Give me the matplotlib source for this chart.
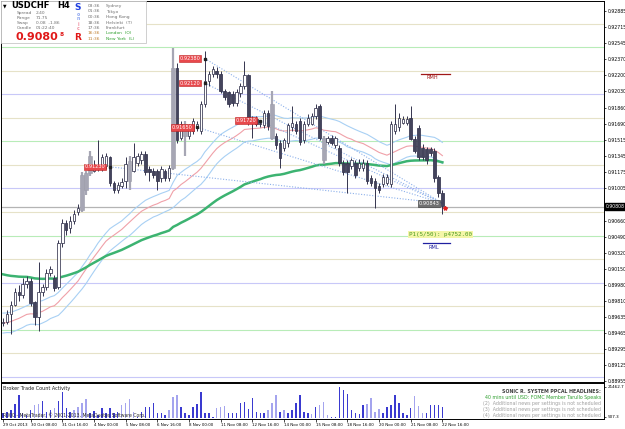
import matplotlib
matplotlib.use("Agg")
import matplotlib.pyplot as plt
from matplotlib.patches import Rectangle
import pandas as pd

# USDCHF H4 candles
opens = [0.8957, 0.8958, 0.8967, 0.8976, 0.8990, 0.8987, 0.8999, 0.9002, 0.8979, 0.8963,
         0.8990, 0.8995, 0.9010, 0.9005, 0.8995, 0.9042, 0.9063, 0.9058, 0.9066, 0.9075,
         0.9077, 0.9098, 0.9116, 0.9119, 0.9121, 0.9122, 0.9124, 0.9133, 0.9106, 0.9098,
         0.9103, 0.9108, 0.9108, 0.9119, 0.9127, 0.9130, 0.9137, 0.9121, 0.9119, 0.9119,
         0.9111, 0.9119, 0.9111, 0.9122, 0.9228, 0.9154, 0.9169, 0.9156, 0.9161, 0.9165,
         0.9161, 0.9190, 0.9214, 0.9222, 0.9225, 0.9222, 0.9204, 0.9202, 0.9200, 0.9191,
         0.9201, 0.9209, 0.9220, 0.9175, 0.9174, 0.9170, 0.9167, 0.9180, 0.9190, 0.9156,
         0.9148, 0.9143, 0.9148, 0.9165, 0.9169, 0.9172, 0.9151, 0.9169, 0.9169, 0.9177,
         0.9188, 0.9154, 0.9149, 0.9154, 0.9146, 0.9143, 0.9127, 0.9127, 0.9124, 0.9127,
         0.9122, 0.9122, 0.9127, 0.9111, 0.9108, 0.9103, 0.9105, 0.9106, 0.9105, 0.9161,
         0.9165, 0.9170, 0.9170, 0.9175, 0.9153, 0.9164, 0.9143, 0.9142, 0.9142, 0.9140,
         0.9112, 0.9095]
highs = [0.8962, 0.8971, 0.8981, 0.8994, 0.8997, 0.9005, 0.9007, 0.9005, 0.8981, 0.9022,
         0.8999, 0.9015, 0.9018, 0.9008, 0.9045, 0.9068, 0.9067, 0.9071, 0.9077, 0.9083,
         0.9117, 0.9119, 0.9140, 0.9130, 0.9151, 0.9137, 0.9138, 0.9135, 0.9108, 0.9107,
         0.9111, 0.9133, 0.9134, 0.9148, 0.9138, 0.9140, 0.9140, 0.9124, 0.9122, 0.9121,
         0.9124, 0.9121, 0.9125, 0.9249, 0.9233, 0.9172, 0.9172, 0.9168, 0.9175, 0.9172,
         0.9193, 0.9246, 0.9225, 0.9230, 0.9229, 0.9225, 0.9206, 0.9204, 0.9203, 0.9206,
         0.9212, 0.9235, 0.9222, 0.9177, 0.9177, 0.9173, 0.9183, 0.9183, 0.9204, 0.9159,
         0.9151, 0.9154, 0.9170, 0.9188, 0.9172, 0.9175, 0.9172, 0.9179, 0.9180, 0.9190,
         0.9190, 0.9156, 0.9156, 0.9157, 0.9156, 0.9146, 0.9130, 0.9130, 0.9132, 0.9130,
         0.9131, 0.9131, 0.9130, 0.9114, 0.9111, 0.9106, 0.9115, 0.9115, 0.9172, 0.9190,
         0.9180, 0.9177, 0.9177, 0.9188, 0.9156, 0.9167, 0.9147, 0.9144, 0.9144, 0.9143,
         0.9114, 0.9098]
lows = [0.8954, 0.8956, 0.8946, 0.8975, 0.8981, 0.8984, 0.8994, 0.8975, 0.8955, 0.8949,
        0.8986, 0.8992, 0.9007, 0.8991, 0.8993, 0.9038, 0.9051, 0.9053, 0.9062, 0.9072,
        0.9075, 0.9093, 0.9113, 0.9117, 0.9119, 0.9119, 0.9121, 0.9103, 0.9095, 0.9095,
        0.9101, 0.9101, 0.9098, 0.9117, 0.9124, 0.9126, 0.9114, 0.9108, 0.9111, 0.9098,
        0.9107, 0.9108, 0.9108, 0.9120, 0.9148, 0.9151, 0.9135, 0.9153, 0.9158, 0.9161,
        0.9158, 0.9187, 0.9209, 0.9218, 0.9217, 0.9201, 0.9194, 0.9187, 0.9188, 0.9188,
        0.9197, 0.9206, 0.9167, 0.9154, 0.9166, 0.9165, 0.9164, 0.9162, 0.9151, 0.9142,
        0.9122, 0.9140, 0.9144, 0.9161, 0.9158, 0.9146, 0.9148, 0.9166, 0.9167, 0.9174,
        0.9151, 0.9126, 0.9147, 0.9146, 0.9143, 0.9124, 0.9114, 0.9095, 0.9121, 0.9111,
        0.9119, 0.9119, 0.9105, 0.9103, 0.9079, 0.9095, 0.9102, 0.9104, 0.9102, 0.9158,
        0.9161, 0.9168, 0.9167, 0.9151, 0.9138, 0.9130, 0.9130, 0.9126, 0.9135, 0.9107,
        0.9091, 0.9073]
closes = [0.8958, 0.8967, 0.8976, 0.8990, 0.8987, 0.8999, 0.9002, 0.8978, 0.8963, 0.8990,
          0.8995, 0.9010, 0.9015, 0.8994, 0.9042, 0.9063, 0.9056, 0.9066, 0.9073, 0.9079,
          0.9114, 0.9116, 0.9135, 0.9124, 0.9124, 0.9133, 0.9134, 0.9106, 0.9098, 0.9104,
          0.9107, 0.9126, 0.9129, 0.9133, 0.9135, 0.9137, 0.9117, 0.9117, 0.9114, 0.9108,
          0.9121, 0.9111, 0.9122, 0.9228, 0.9151, 0.9169, 0.9156, 0.9165, 0.9172, 0.9169,
          0.9190, 0.9214, 0.9222, 0.9227, 0.9222, 0.9204, 0.9197, 0.9190, 0.9191, 0.9202,
          0.9209, 0.9220, 0.9170, 0.9171, 0.9169, 0.9169, 0.9180, 0.9166, 0.9154, 0.9146,
          0.9132, 0.9151, 0.9167, 0.9170, 0.9161, 0.9149, 0.9169, 0.9175, 0.9177, 0.9186,
          0.9154, 0.9130, 0.9154, 0.9148, 0.9154, 0.9127, 0.9117, 0.9117, 0.9130, 0.9114,
          0.9127, 0.9127, 0.9108, 0.9106, 0.9101, 0.9098, 0.9112, 0.9112, 0.9169, 0.9169,
          0.9175, 0.9174, 0.9174, 0.9153, 0.9140, 0.9133, 0.9133, 0.9130, 0.9138, 0.9111,
          0.9095, 0.9081]
gray_bars = [20, 21, 22, 32, 43, 46, 68, 81]

tick_idx = [0, 7, 15, 23, 31, 39, 47, 55, 63, 71, 79, 87, 95, 103, 111]
tick_text = ["29 Oct 2013", "30 Oct 08:00", "31 Oct 16:00", "4 Nov 00:00", "5 Nov 08:00",
             "6 Nov 16:00", "8 Nov 00:00", "11 Nov 08:00", "12 Nov 16:00", "14 Nov 00:00",
             "15 Nov 08:00", "18 Nov 16:00", "20 Nov 00:00", "21 Nov 08:00", "22 Nov 16:00"]

# 0.90835 sits under the bid box, so it is left out
price_ticks = [0.92885, 0.92715, 0.92545, 0.92370, 0.92200, 0.92030, 0.91860, 0.91690,
               0.91515, 0.91345, 0.91175, 0.91005, 0.90660, 0.90490, 0.90320,
               0.90150, 0.89980, 0.89810, 0.89635, 0.89465, 0.89295, 0.89125, 0.88955]
levels = [0.8900, 0.8925, 0.8950, 0.8975, 0.9000, 0.9025, 0.9050, 0.9075, 0.9100,
          0.9125, 0.9150, 0.9175, 0.9200, 0.9225, 0.9250, 0.9275]
bid = 0.90808

# EMA start values read at the left edge
seed_close, seed_high, seed_low, seed_89 = 0.8957, 0.8968, 0.8946, 0.9010

# pivot labels and the point they all run to
piv_idx = [51, 51, 49, 65, 27]
piv_price = [0.9238, 0.9212, 0.9165, 0.9172, 0.9123]
end_idx, end_price = 111, 0.90843
rmh, rml = 0.9222, 0.9042

volumes = [3100, 4000, 5400, 9600, 15900, 3100, 1900, 5400, 8900, 9600,
           11900, 4200, 5400, 6600, 11900, 18200, 6600, 4200, 5400, 7700,
           10100, 13100, 3100, 4500, 1900, 6600, 3100, 6600, 3100, 4200,
           8900, 10100, 13100, 4200, 700, 4200, 7700, 7700, 10500, 3100,
           3100, 1900, 5400, 14700, 15900, 7700, 3100, 1900, 7700, 9600,
           18200, 3100, 3100, 700, 6600, 7700, 8200, 3100, 3100, 3100,
           10100, 11200, 6000, 13500, 4200, 3100, 3100, 5400, 10100, 15900,
           4200, 5400, 3100, 5400, 10100, 15900, 4200, 3100, 2600, 7700,
           8900, 11200, 1900, 300, 700, 21700, 19400, 16600, 5400, 3100,
           2600, 8900, 9600, 13500, 4200, 5900, 3100, 7700, 8900, 15900,
           10100, 3100, 1900, 6600, 15200, 8200, 3100, 3100, 8900, 8900,
           8900, 7700]
vol_light = [0, 0, 0, 0, 0, 0, 0, 0, 1, 1,
             0, 0, 0, 1, 0, 0, 0, 0, 1, 1,
             1, 1, 0, 0, 0, 0, 0, 0, 0, 0,
             1, 1, 1, 1, 0, 0, 0, 0, 0, 0,
             0, 0, 1, 1, 1, 0, 0, 0, 0, 0,
             0, 0, 0, 0, 1, 1, 1, 0, 0, 0,
             0, 0, 0, 0, 0, 0, 0, 1, 1, 1,
             0, 1, 0, 0, 0, 0, 0, 0, 1, 0,
             1, 1, 1, 0, 0, 0, 0, 0, 0, 0,
             0, 0, 1, 1, 1, 1, 0, 0, 0, 0,
             0, 0, 0, 0, 1, 1, 1, 0, 0, 0,
             0, 0]


def ema(vals, seed, span):
    s = pd.Series([seed] + list(vals))
    return s.ewm(span=span, adjust=False).mean().values[1:]


W, H = 625, 429
fig = plt.figure(figsize=(W / 100, H / 100), dpi=100)
ax = fig.add_axes([0.0015, 1 - 382 / H, 603 / W, 381 / H])
axv = fig.add_axes([0.0015, 10 / H, 603 / W, 36 / H])

n = len(closes)
xs = list(range(n))

# round-number levels
for lv in levels:
    k = round(lv * 10000) % 100
    col = "#c8c8f8" if k == 0 else ("#b8ecb8" if k == 50 else "#e6e2c8")
    ax.axhline(lv, color=col, lw=0.8, zorder=1)
ax.axhline(bid, color="#b4b4b4", lw=0.9, zorder=1)

# moving averages
ax.plot(xs, ema(highs, seed_high, 34), color="#a8d0f4", lw=0.8, zorder=2)
ax.plot(xs, ema(lows, seed_low, 34), color="#a8d0f4", lw=0.8, zorder=2)
ax.plot(xs, ema(closes, seed_close, 34), color="#f0a0a8", lw=0.8, zorder=2)
ax.plot(xs, ema(closes, seed_89, 89), color="#3cb371", lw=1.8, zorder=2)

# dotted fan lines
for pi, pp in zip(piv_idx, piv_price):
    ax.plot([pi, end_idx], [pp, end_price], color="#8cb0ea", lw=0.8,
            linestyle=(0, (1, 1.5)), zorder=2)

# candles
edge = "#34344e"
for i in xs:
    o, h, l, c = opens[i], highs[i], lows[i], closes[i]
    if i in gray_bars:
        ax.vlines(i, l, h, color="#a6a6b4", lw=1.6, zorder=3)
        ax.bar(i, abs(c - o), bottom=min(o, c), width=0.95, color="#a6a6b4",
               edgecolor="#9a9aa8", lw=0.4, zorder=3)
        continue
    ax.vlines(i, l, h, color=edge, lw=0.7, zorder=3)
    fill = "white" if c >= o else "#44445c"
    ax.bar(i, max(abs(c - o), 0.00004), bottom=min(o, c), width=0.62,
           color=fill, edgecolor=edge, lw=0.55, zorder=4)

# pivot labels
for pi, pp in zip(piv_idx, piv_price):
    ax.plot(pi, pp, marker="s", ms=1.6, color="#202020", zorder=6)
    ax.annotate(f"{pp:.5f}", (pi, pp), xytext=(-3, 0), textcoords="offset points",
                ha="right", va="center", fontsize=3.6, color="white", zorder=7,
                bbox=dict(boxstyle="square,pad=0.15", fc="#e8484c", ec="#c02020", lw=0.4))
ax.annotate(f"{end_price:.5f}", (end_idx, end_price), xytext=(-2, 0),
            textcoords="offset points", ha="right", va="center", fontsize=3.6,
            color="white", zorder=7,
            bbox=dict(boxstyle="square,pad=0.15", fc="#707070", ec="#303030", lw=0.4))
ax.plot(end_idx + 0.6, bid - 0.0002, marker="*", ms=3, color="#e02020", zorder=7)

ax.plot([105.5, 113], [rmh, rmh], color="#a01818", lw=0.9)
ax.text(107, rmh - 0.0002, "RMH", fontsize=3.6, color="#a01818", va="top")
ax.plot([106, 113], [rml, rml], color="#2020a0", lw=0.9)
ax.text(107.5, rml - 0.0002, "RML", fontsize=3.6, color="#2020a0", va="top")
ax.text(102.5, 0.9051, "P1(5/50): p4752.00", fontsize=4.2, color="#4a9a20",
        family="DejaVu Sans Mono", va="center",
        bbox=dict(boxstyle="square,pad=0.15", fc="#f4f6a8", ec="none"))

ax.set_xlim(-0.5, 151.8)
ax.set_ylim(0.88945, 0.92991)
ax.set_xticks([])
ax.yaxis.tick_right()
ax.set_yticks(price_ticks)
ax.set_yticklabels([f"{v:.5f}" for v in price_ticks])
ax.tick_params(axis="y", labelsize=3.3, length=1.5, width=0.5, pad=1)
ax.annotate(f"{bid:.5f}", (1.0, bid), xycoords=("axes fraction", "data"),
            xytext=(1.5, 0), textcoords="offset points", ha="left", va="center",
            fontsize=3.3, color="white",
            bbox=dict(boxstyle="square,pad=0.2", fc="black", ec="black"))
for sp in ax.spines.values():
    sp.set_linewidth(0.7)

# broker activity sub-window
vcols = ["#a4a4ee" if f else "#3a3ad0" for f in vol_light]
axv.bar(xs, volumes, width=0.38, color=vcols)
axv.set_xlim(-0.5, 151.8)
axv.set_ylim(-890, 24256)
axv.yaxis.tick_right()
axv.set_yticks([507.3, 21462.7])
axv.set_yticklabels(["507.3", "21462.7"])
axv.tick_params(axis="y", labelsize=3.0, length=1.5, width=0.5, pad=1)
axv.set_xticks(tick_idx)
axv.set_xticklabels(tick_text, ha="left")
axv.tick_params(axis="x", labelsize=2.9, length=2, width=0.5, pad=1)
for sp in axv.spines.values():
    sp.set_linewidth(0.7)
axv.text(0.004, 0.86, "Broker Trade Count Activity", transform=axv.transAxes,
         fontsize=3.5, color="#202020", va="center")
axv.text(0.004, 0.1, "R000 - MetaTrader, \u00a9 2001-2013, MetaQuotes Software Corp.",
         transform=axv.transAxes, fontsize=3.3, color="#303030", va="center")
news = [("SONIC R. SYSTEM PPCAL HEADLINES:", "#404040", "bold"),
        ("40 mins until USD: FOMC Member Tarullo Speaks", "#30a030", "normal"),
        ("(2)  Additional news per settings is not scheduled", "#a0a0a0", "normal"),
        ("(3)  Additional news per settings is not scheduled", "#a0a0a0", "normal"),
        ("(4)  Additional news per settings is not scheduled", "#a0a0a0", "normal")]
for k, (txt, col, wt) in enumerate(news):
    axv.text(0.995, 0.76 - k * 0.165, txt, transform=axv.transAxes, ha="right",
             va="center", fontsize=3.4, color=col, fontweight=wt)


# info panel, top left
def fx(x):
    return x / W


def fy(y):
    return 1 - y / H


fig.add_artist(Rectangle((fx(1), fy(43)), fx(145), 42 / H, transform=fig.transFigure,
                         fc="white", ec="#c8c8c8", lw=0.6, zorder=10))
fig.text(fx(3), fy(6), "\u25bc", fontsize=3.3, va="center", zorder=11)
fig.text(fx(11), fy(6), "USDCHF", fontsize=6, fontweight="bold", va="center", zorder=11)
fig.text(fx(57), fy(6), "H4", fontsize=6, fontweight="bold", va="center", zorder=11)
info = ["Spread", "Range", "Swap", "Candle"]
info_v = ["2.40", "71.75", "0.08  -1.86", "01:22:40"]
for k, (a, b) in enumerate(zip(info, info_v)):
    fig.text(fx(17), fy(13 + 5 * k), a, fontsize=3.2, color="#707070", va="center", zorder=11)
    fig.text(fx(36), fy(13 + 5 * k), b, fontsize=3.2, color="#707070", va="center", zorder=11)
fig.text(fx(15), fy(37), "0.9080", fontsize=8, color="#e01818", fontweight="bold",
         va="center", zorder=11)
fig.text(fx(60), fy(35), "8", fontsize=4.2, color="#e01818", fontweight="bold",
         va="center", zorder=11)
sonic = [("S", "#2040e0", 6.5, 7), ("o", "#90a8f0", 3.3, 14), ("n", "#90a8f0", 3.3, 19),
         ("i", "#f090a0", 3.3, 24), ("c", "#f090a0", 3.3, 29), ("R", "#e01818", 6.5, 38)]
for ch, col, fs, y in sonic:
    fig.text(fx(78), fy(y), ch, fontsize=fs, color=col, fontweight="bold",
             ha="center", va="center", zorder=11)
clocks = [("03:36", "Sydney"), ("01:36", "Tokyo"), ("00:36", "Hong Kong"),
          ("18:36", "Helsinki  (T)"), ("17:36", "Frankfurt"), ("16:36", "London  (O)"),
          ("11:36", "New York  (L)")]
for k, (t, city) in enumerate(clocks):
    tc = "#707070" if k < 5 else "#c08030"
    cc = "#707070" if k < 5 else "#30a030"
    fig.text(fx(88), fy(6 + 5.5 * k), t, fontsize=3.2, color=tc, va="center", zorder=11)
    fig.text(fx(106), fy(6 + 5.5 * k), city, fontsize=3.2, color=cc, va="center", zorder=11)

fig.savefig("out.png", dpi=100)
